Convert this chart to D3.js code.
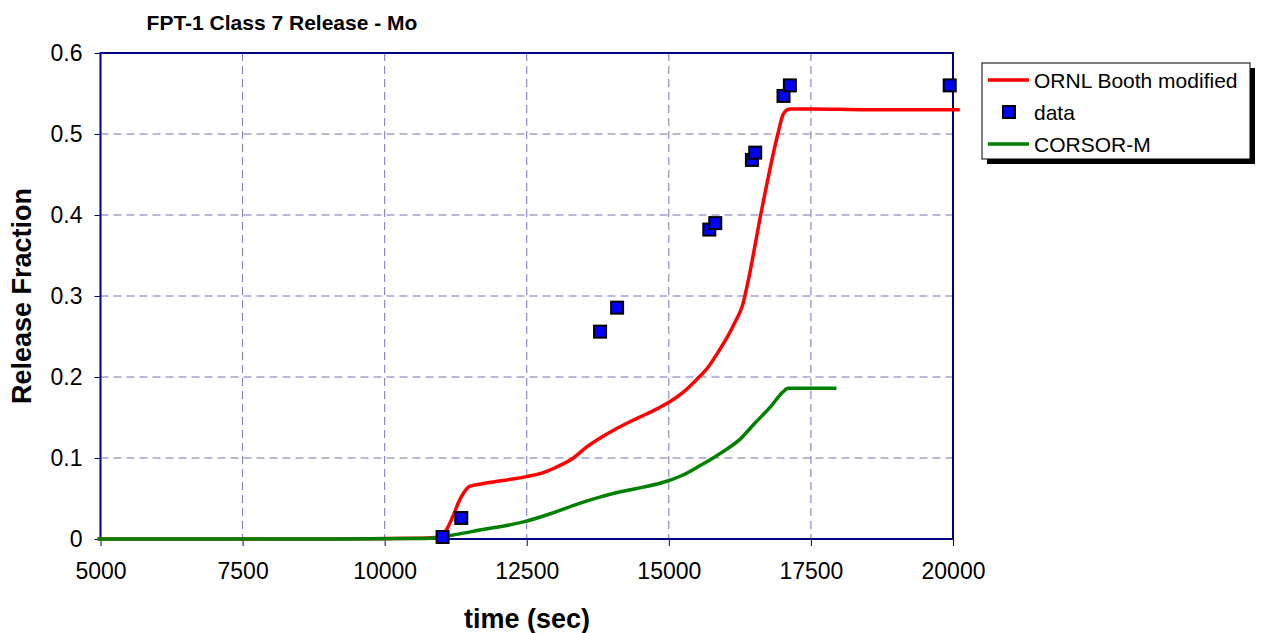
<!DOCTYPE html>
<html>
<head>
  <title>FPT-1 Class 7 Release - Mo</title>
  <script src="https://cdn.jsdelivr.net/npm/d3@7"></script>
  <style>
    body { margin: 0; background: #fff; }
    text { font-family: Arial, "Liberation Sans", sans-serif; fill: #000; }
  </style>
</head>
<body>
  <div id="chart"></div>
  <script>
    // data
    const xTicks = [5000, 7500, 10000, 12500, 15000, 17500, 20000]
    const yTicks = [0, 0.1, 0.2, 0.3, 0.4, 0.5, 0.6]

    const ornlTime = [4950, 9000, 10500, 10900, 11000, 11085, 11200, 11318, 11400, 11494, 11700, 11963, 12250, 12490, 12750, 13000, 13320, 13545, 13779, 14100, 14350, 14600, 14800, 15009, 15250, 15478, 15700, 15888, 16050, 16181, 16290, 16400, 16616, 16918, 17010, 17088, 17150, 17500, 18500, 20120]
    const ornlFrac = [0, 0, 0.001, 0.002, 0.004, 0.011, 0.028, 0.048, 0.058, 0.065, 0.068, 0.071, 0.074, 0.077, 0.081, 0.088, 0.100, 0.113, 0.124, 0.137, 0.146, 0.154, 0.161, 0.169, 0.181, 0.196, 0.213, 0.233, 0.252, 0.270, 0.287, 0.320, 0.400, 0.500, 0.524, 0.530, 0.531, 0.531, 0.530, 0.530]

    const corsorTime = [4950, 9000, 10500, 10800, 11000, 11300, 11669, 12100, 12490, 12950, 13427, 13800, 14130, 14550, 14950, 15250, 15536, 15800, 16000, 16250, 16500, 16800, 17000, 17100, 17293, 17600, 17950]
    const corsorFrac = [0, 0, 0.0005, 0.001, 0.003, 0.006, 0.011, 0.016, 0.022, 0.032, 0.044, 0.052, 0.058, 0.064, 0.071, 0.079, 0.090, 0.101, 0.110, 0.123, 0.142, 0.164, 0.181, 0.186, 0.186, 0.186, 0.186]

    const dataTime = [11019, 11348, 13790, 14090, 15712, 15817, 16462, 16520, 17018, 17130, 19942]
    const dataFrac = [0.0025, 0.026, 0.256, 0.2856, 0.382, 0.390, 0.468, 0.477, 0.547, 0.560, 0.560]

    const width = 1267
    const height = 633
    const margin = { left: 100.5, right: 314, top: 53, bottom: 94 }

    const svg = d3.select("#chart").append("svg")
      .attr("width", width)
      .attr("height", height)

    const x = d3.scaleLinear().domain([5000, 20000]).range([margin.left, width - margin.right])
    const y = d3.scaleLinear().domain([0, 0.6]).range([height - margin.bottom, margin.top])

    const gridColor = "#7373b8"

    // grid
    const grid = svg.append("g")
    grid.selectAll("line.v")
      .data(xTicks.slice(1, -1))
      .enter().append("line")
      .attr("x1", d => x(d)).attr("x2", d => x(d))
      .attr("y1", y(0.6)).attr("y2", y(0))
      .attr("stroke", gridColor).attr("stroke-width", 1)
      .attr("stroke-dasharray", "8,5")
    grid.selectAll("line.h")
      .data(yTicks.slice(1, -1))
      .enter().append("line")
      .attr("x1", x(5000)).attr("x2", x(20000))
      .attr("y1", d => y(d)).attr("y2", d => y(d))
      .attr("stroke", gridColor).attr("stroke-width", 1)
      .attr("stroke-dasharray", "8,5")

    // frame
    svg.append("rect")
      .attr("x", x(5000)).attr("y", y(0.6))
      .attr("width", x(20000) - x(5000)).attr("height", y(0) - y(0.6))
      .attr("fill", "none").attr("stroke", "#000080").attr("stroke-width", 2)

    // axes
    const xAxis = svg.append("g")
      .attr("transform", `translate(0,${y(0)})`)
      .call(d3.axisBottom(x).tickValues(xTicks).tickSize(7).tickPadding(17).tickFormat(d3.format("d")))
    const yAxis = svg.append("g")
      .attr("transform", `translate(${x(5000)},0)`)
      .call(d3.axisLeft(y).tickValues(yTicks).tickSize(6).tickPadding(12).tickFormat(d => d === 0 ? "0" : d3.format(".1f")(d)))
    ;[xAxis, yAxis].forEach(a => {
      a.select(".domain").remove()
      a.selectAll(".tick line").attr("stroke", "#000080")
      a.selectAll(".tick text").style("font-size", "23px").style("font-family", "Arial, 'Liberation Sans', sans-serif")
    })

    // lines
    const line = d3.line().x(d => x(d[0])).y(d => y(d[1])).curve(d3.curveMonotoneX)

    svg.append("path")
      .datum(ornlTime.map((t, i) => [t, ornlFrac[i]]))
      .attr("d", line)
      .attr("fill", "none").attr("stroke", "#ff0000").attr("stroke-width", 3.5)

    svg.append("path")
      .datum(corsorTime.map((t, i) => [t, corsorFrac[i]]))
      .attr("d", line)
      .attr("fill", "none").attr("stroke", "#008000").attr("stroke-width", 3.5)

    // data points
    svg.append("g").selectAll("rect")
      .data(dataTime.map((t, i) => [t, dataFrac[i]]))
      .enter().append("rect")
      .attr("x", d => x(d[0]) - 6).attr("y", d => y(d[1]) - 6)
      .attr("width", 12).attr("height", 12)
      .attr("fill", "#0000ff").attr("stroke", "#000").attr("stroke-width", 2)

    // titles
    svg.append("text")
      .attr("x", 282).attr("y", 30)
      .attr("text-anchor", "middle")
      .style("font-size", "21px").style("font-weight", "bold")
      .text("FPT-1 Class 7 Release - Mo")

    svg.append("text")
      .attr("x", 527).attr("y", 628)
      .attr("text-anchor", "middle")
      .style("font-size", "27px").style("font-weight", "bold")
      .text("time (sec)")

    svg.append("text")
      .attr("transform", `translate(31,296) rotate(-90)`)
      .attr("text-anchor", "middle")
      .style("font-size", "27px").style("font-weight", "bold")
      .text("Release Fraction")

    // legend
    const lg = svg.append("g").attr("transform", "translate(982,63)")
    lg.append("rect").attr("x", 5).attr("y", 5).attr("width", 268).attr("height", 96).attr("fill", "#000")
    lg.append("rect").attr("x", 0).attr("y", 0).attr("width", 268).attr("height", 96)
      .attr("fill", "#fff").attr("stroke", "#000").attr("stroke-width", 1)

    const legendItems = [
      { label: "ORNL Booth modified", type: "line", color: "#ff0000" },
      { label: "data", type: "marker", color: "#0000ff" },
      { label: "CORSOR-M", type: "line", color: "#008000" }
    ]
    legendItems.forEach((it, i) => {
      const cy = 17 + i * 32
      if (it.type === "line") {
        lg.append("line").attr("x1", 6).attr("x2", 47).attr("y1", cy).attr("y2", cy)
          .attr("stroke", it.color).attr("stroke-width", 3.5)
      } else {
        lg.append("rect").attr("x", 21).attr("y", cy - 6).attr("width", 12).attr("height", 12)
          .attr("fill", it.color).attr("stroke", "#000").attr("stroke-width", 2)
      }
      lg.append("text").attr("x", 52).attr("y", cy + 7.5)
        .style("font-size", "21px")
        .text(it.label)
    })
  </script>
</body>
</html>
